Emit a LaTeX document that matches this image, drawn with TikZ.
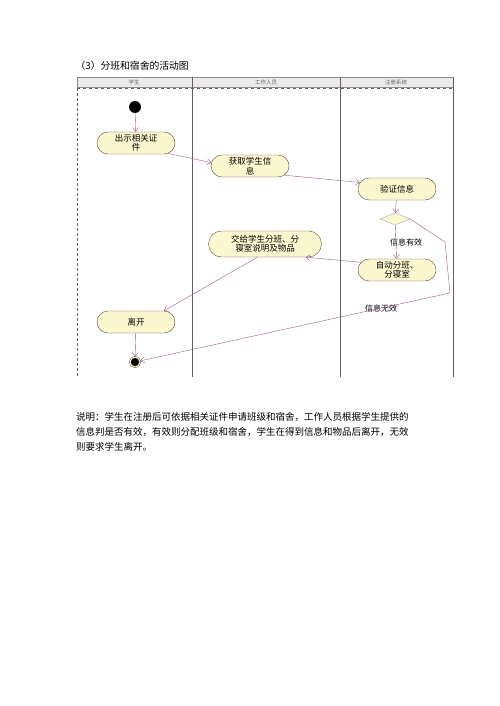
\documentclass[tikz,border=0pt]{standalone}
\usepackage{fontspec}
\newfontfamily\cjk{Noto Sans CJK SC}
\usetikzlibrary{shapes.misc, shapes.geometric, arrows.meta}
\definecolor{actfill}{HTML}{FBF8CF}
\definecolor{actborder}{HTML}{5E4A40}
\definecolor{flowcol}{HTML}{9A5A8C}
\definecolor{lanecol}{HTML}{6F5A6A}

\begin{document}
\begin{tikzpicture}[x=1pt, y=-1pt,
    act/.style={rounded rectangle, draw=actborder, fill=actfill, minimum width=80pt,
      minimum height=22pt, inner sep=1pt, align=center,
      font=\cjk\fontsize{8.5}{9.5}\selectfont},
    flow/.style={draw=flowcol, -{Straight Barb[length=4pt, width=6pt]}},
    lanetitle/.style={font=\cjk\fontsize{5.5}{6}\selectfont, text=black!60},
    guard/.style={font=\cjk\fontsize{8}{9}\selectfont}]
  \useasboundingbox (0,0) rectangle (500,706);
  % Title
  \node[anchor=west, font=\cjk\fontsize{9.8}{12}\selectfont] (title) at (72,66) {（3）分班和宿舍的活动图};
  % Swimlanes
  \fill[black!8] (77,77) rectangle (453,87);
  \draw[black!45] (77,77) rectangle (453,87);
  \draw[lanecol, dashed, thick] (77,88) -- (453,88);
  \draw[lanecol, densely dashed, thick] (77,88) -- (77,376);
  \foreach \x in {192, 340, 453} {
    \draw[lanecol] (\x,77) -- (\x,377);
  }
  \foreach \x/\name in {134/学生, 266/工作人员, 396/注册系统} {
    \node[lanetitle] at (\x,82) {\name};
  }
  % Activities
  \node[circle, fill=black, minimum size=12pt, inner sep=0pt] (start) at (135,107) {};
  \node[act] (show) at (136,143) {出示相关证\\件};
  \node[act] (fetch) at (250,166) {获取学生信\\息};
  \node[act] (check) at (397,189) {验证信息};
  \node[diamond, draw=actborder!50, fill=actfill, minimum width=30pt, minimum height=12pt,
    inner sep=0pt] (dia) at (395,219) {};
  \node[act] (auto) at (397,270) {自动分班、\\分寝室};
  \node[act, minimum width=115pt, minimum height=26pt] (give) at (265,244) {交给学生分班、分\\寝室说明及物品};
  \node[act] (leave) at (136,322) {离开};
  \node[circle, fill=black, draw=actborder, double=actfill, double distance=1pt,
    minimum size=10pt, inner sep=0pt] (stop) at (135,362) {};
  % Guards
  \node[guard] (valid) at (406,242) {信息有效};
  \node[guard] (invalid) at (381,308) {信息无效};
  \coordinate (bendA) at (445,242);
  \coordinate (bendB) at (450,293);
  % Flows
  \draw[flow] (start) -- (show);
  \draw[flow] (show.-18) -- (fetch.175);
  \draw[flow] (fetch.-15) -- (check.170);
  \draw[flow] (check) -- (dia);
  \draw[flow] (dia) -- (auto);
  \draw[flow] (auto.168) -- (give.-18);
  \draw[flow] (give.-120) -- (leave.north east);
  \draw[flow] (leave) -- (stop);
  \draw[flow] (dia.east) -- (bendA) -- (bendB) -- (stop);
  % Description
  \node[anchor=north west, align=left, inner sep=0pt,
    font=\cjk\fontsize{9.5}{15}\selectfont] (note) at (76,412)
    {说明：学生在注册后可依据相关证件申请班级和宿舍，工作人员根据学生提供的\\
     信息判是否有效，有效则分配班级和宿舍，学生在得到信息和物品后离开，无效\\
     则要求学生离开。};
\end{tikzpicture}
\end{document}
